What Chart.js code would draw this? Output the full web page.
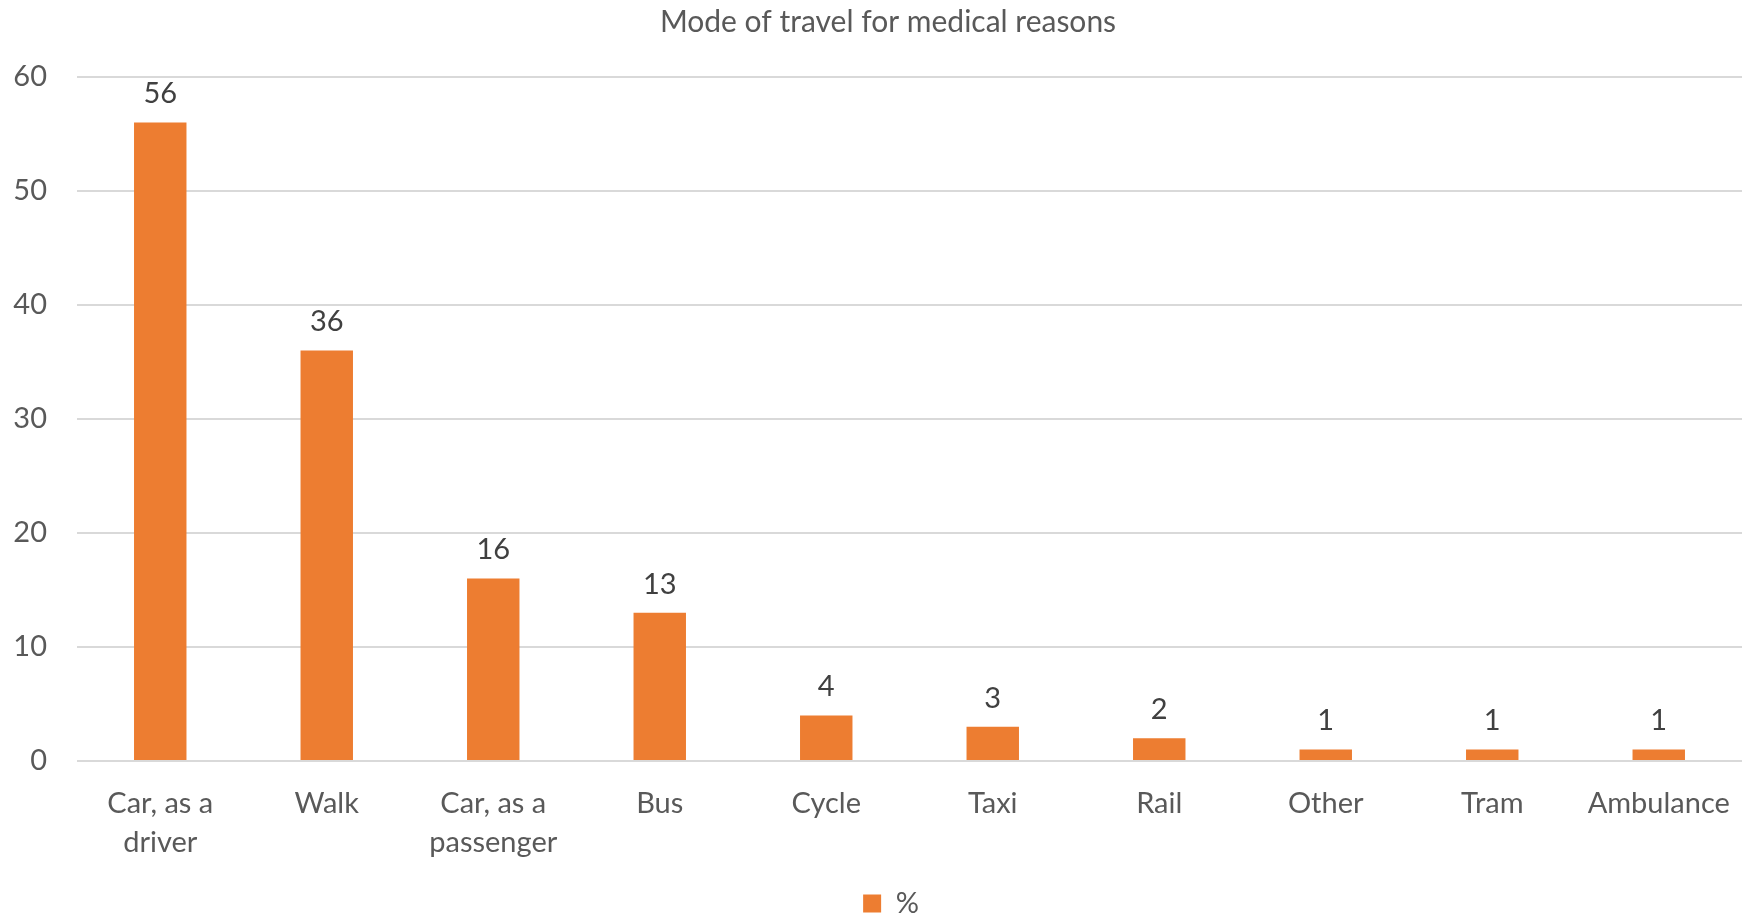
<!doctype html>
<html lang="en">
<head>
<meta charset="utf-8">
<title>Mode of travel for medical reasons</title>
<script src="https://cdn.jsdelivr.net/npm/chart.js"></script>
<style>
  html, body { margin: 0; padding: 0; background: #fff; }
  #wrap { width: 1742px; height: 916px; }
</style>
</head>
<body>
<div id="wrap"><canvas id="myChart" width="1742" height="916"></canvas></div>
<script>
var categories = [['Car, as a', 'driver'], 'Walk', ['Car, as a', 'passenger'], 'Bus', 'Cycle', 'Taxi', 'Rail', 'Other', 'Tram', 'Ambulance'];
var percentValues = [56, 36, 16, 13, 4, 3, 2, 1, 1, 1];
var yTicks = [0, 10, 20, 30, 40, 50, 60];

var FONT = 'Lato, "Open Sans", sans-serif';
var FS = 29;

// draws the number over each bar
var barLabels = {
  id: 'barLabels',
  afterDatasetsDraw: function(chart) {
    var ctx = chart.ctx;
    var meta = chart.getDatasetMeta(0);
    ctx.save();
    ctx.font = FS + 'px ' + FONT;
    ctx.fillStyle = '#404040';
    ctx.textAlign = 'center';
    ctx.textBaseline = 'bottom';
    meta.data.forEach(function(bar, i) {
      ctx.fillText(chart.data.datasets[0].data[i], bar.x, bar.y - 14);
    });
    ctx.restore();
  }
};

// nudge legend and title a bit, like the Excel original
var layoutNudge = {
  id: 'layoutNudge',
  afterLayout: function(chart) {
    var lg = chart.legend;
    lg.top += 12; lg.bottom += 12;
    lg.left += 20; lg.right += 20;
    var tb = chart.titleBlock;
    tb.left += 17; tb.right += 17;
  }
};

new Chart(document.getElementById('myChart'), {
  type: 'bar',
  data: {
    labels: categories,
    datasets: [{
      label: '%',
      data: percentValues,
      backgroundColor: '#ED7D31',
      borderWidth: 0,
      categoryPercentage: 1,
      barPercentage: 0.315
    }]
  },
  options: {
    responsive: false,
    animation: false,
    layout: { padding: 0 },
    plugins: {
      title: {
        display: true,
        text: 'Mode of travel for medical reasons',
        color: '#595959',
        font: { family: FONT, size: 30, weight: 'normal' },
        padding: { top: 4, bottom: 37 }
      },
      legend: {
        position: 'bottom',
        labels: {
          color: '#595959',
          font: { family: FONT, size: FS },
          boxWidth: 18,
          boxHeight: 18,
          padding: 2
        }
      },
      tooltip: { enabled: false }
    },
    scales: {
      x: {
        grid: { display: false },
        border: { display: false },
        afterFit: function(scale) {
          scale.height = 114;
          scale.paddingLeft = 0;
          scale.paddingRight = 0;
        },
        ticks: {
          color: '#595959',
          font: { family: FONT, size: FS, lineHeight: 1.345 },
          padding: 15,
          maxRotation: 0,
          autoSkip: false
        }
      },
      y: {
        min: 0,
        max: 60,
        afterBuildTicks: function(scale) {
          scale.ticks = yTicks.map(function(v) { return { value: v }; });
        },
        afterFit: function(scale) { scale.width = 77; },
        grid: { color: '#d9d9d9', lineWidth: 2, drawTicks: false },
        border: { display: false },
        ticks: {
          color: '#595959',
          font: { family: FONT, size: FS },
          padding: 30
        }
      }
    }
  },
  plugins: [barLabels, layoutNudge]
});
</script>
</body>
</html>
